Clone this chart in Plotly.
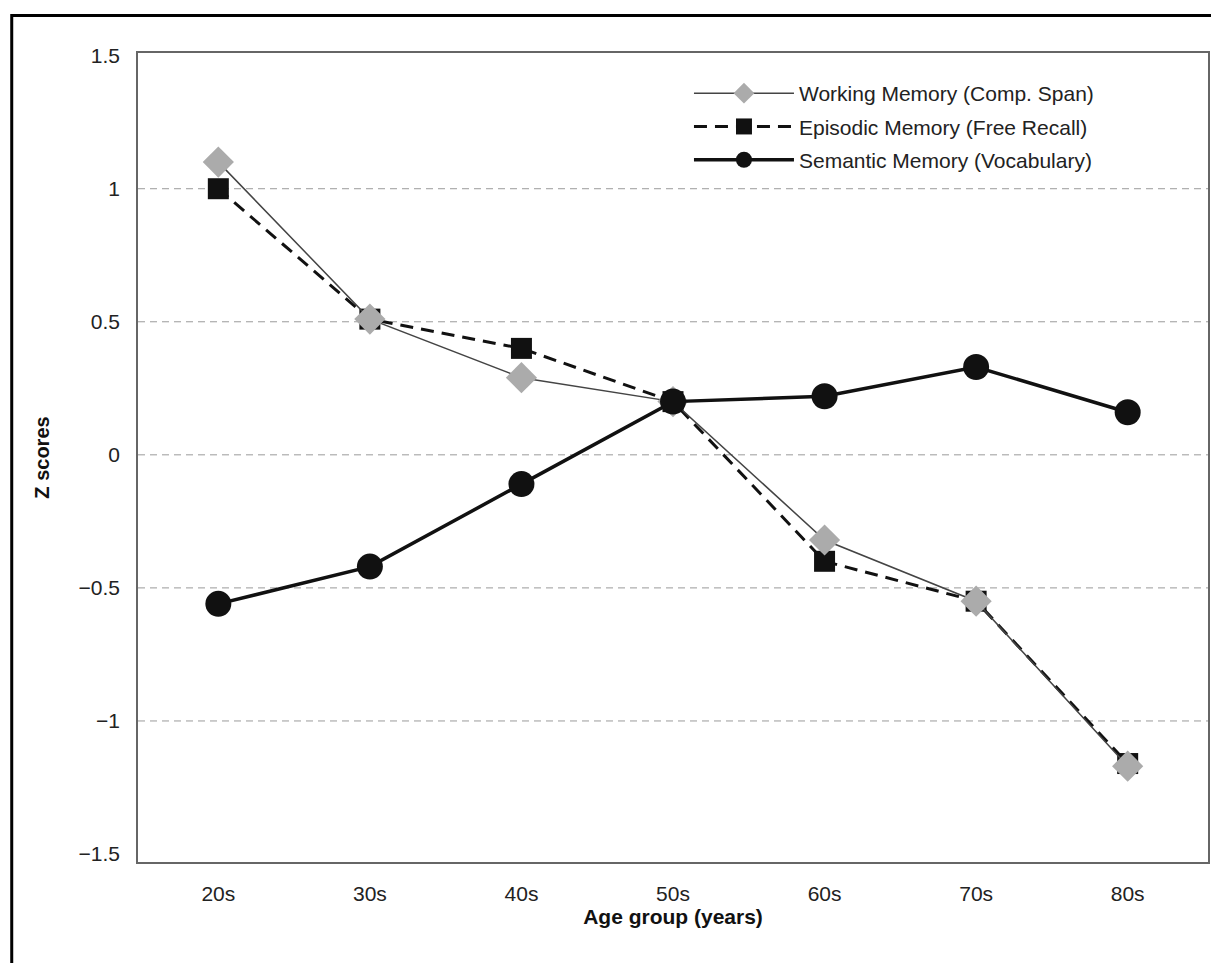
import plotly.graph_objects as go

age_groups = ["20s", "30s", "40s", "50s", "60s", "70s", "80s"]
working_memory = [1.10, 0.51, 0.29, 0.20, -0.32, -0.55, -1.17]
episodic_memory = [1.00, 0.51, 0.40, 0.20, -0.40, -0.55, -1.16]
semantic_memory = [-0.56, -0.42, -0.11, 0.20, 0.22, 0.33, 0.16]
y_ticks = [1.5, 1, 0.5, 0, -0.5, -1, -1.5]
y_tick_text = ["1.5", "1", "0.5", "0", "\u22120.5", "\u22121", "\u22121.5"]
grid_values = [1, 0.5, 0, -0.5, -1]

FONT = "Liberation Sans, Arial, Helvetica, sans-serif"

fig = go.Figure()

fig.add_trace(go.Scatter(
    x=age_groups, y=episodic_memory, name="Episodic Memory (Free Recall)",
    mode="lines+markers", legendrank=2, legendgroup="e",
    line=dict(color="#111111", width=3, dash="13px,8px"),
    marker=dict(symbol="square", size=21, color="#111111", line=dict(width=0)),
))
fig.add_trace(go.Scatter(
    x=age_groups, y=working_memory, name="Working Memory (Comp. Span)",
    mode="lines+markers", legendrank=1, legendgroup="w",
    line=dict(color="#444444", width=1.5),
    marker=dict(symbol="diamond", size=24, color="#ababab", line=dict(width=0)),
))
fig.add_trace(go.Scatter(
    x=age_groups, y=semantic_memory, name="Semantic Memory (Vocabulary)",
    mode="lines+markers", legendrank=3, legendgroup="s",
    line=dict(color="#111111", width=3.5),
    marker=dict(symbol="circle", size=26, color="#111111", line=dict(width=0)),
))

for v in grid_values:
    fig.add_hline(y=v, line=dict(color="#9a9a9a", width=1, dash="7px,5px"), layer="below")

# page has an 8px body margin; work in figure coordinates
L, R, T, B = 130, 9, 45, 101
W, H = 1211, 955
pw, ph = W - L - R, H - T - B

def px_x(p):
    return (p - L) / pw

def px_y(p):
    return 1 - (p - T) / ph

fig.add_shape(type="rect", xref="paper", yref="paper",
              x0=px_x(3.5), x1=px_x(1209.5), y0=px_y(990), y1=px_y(7.5),
              line=dict(color="black", width=3), fillcolor="rgba(0,0,0,0)", layer="above")

fig.update_layout(
    width=W, height=H,
    margin=dict(l=L, r=R, t=T, b=B),
    paper_bgcolor="white", plot_bgcolor="white",
    font=dict(family=FONT, size=21, color="#222222"),
    showlegend=True,
    legend=dict(
        x=px_x(682), y=px_y(65), xanchor="left", yanchor="top",
        bgcolor="rgba(0,0,0,0)", borderwidth=0,
        font=dict(family=FONT, size=21, color="#222222"),
        itemwidth=100, tracegroupgap=3,
        traceorder="grouped",
    ),
    xaxis=dict(
        type="category", range=[-0.53, 6.53],
        showline=True, linecolor="#666666", linewidth=1.5, mirror=True,
        showgrid=False, zeroline=False,
        ticks="outside", ticklen=12, tickcolor="rgba(0,0,0,0)",
        tickfont=dict(family=FONT, size=21, color="#222222"),
        title=dict(text="<b>Age group (years)</b>", standoff=0,
                   font=dict(family=FONT, size=21, color="#111111")),
    ),
    yaxis=dict(
        range=[-1.53, 1.51],
        tickvals=y_ticks, ticktext=y_tick_text,
        showline=True, linecolor="#666666", linewidth=1.5, mirror=True,
        showgrid=False, zeroline=False,
        ticks="outside", ticklen=12, tickcolor="rgba(0,0,0,0)",
        tickfont=dict(family=FONT, size=21, color="#222222"),
        title=dict(text="<b>Z scores</b>", standoff=24,
                   font=dict(family=FONT, size=20, color="#111111")),
    ),
)

fig.write_html("out.html")
